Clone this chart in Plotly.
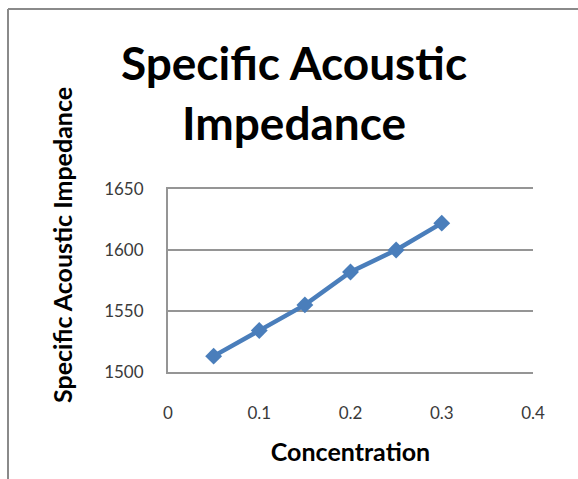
import plotly.graph_objects as go

concentration = [0.05, 0.10, 0.15, 0.20, 0.25, 0.30]
impedance = [1513, 1534, 1555, 1582, 1600, 1622]

x_ticks = [0, 0.1, 0.2, 0.3, 0.4]
x_tick_labels = ["0", "0.1", "0.2", "0.3", "0.4"]
y_ticks = [1500, 1550, 1600, 1650]

W, H = 578, 479
L, R, T, B = 168, 45, 189, 107
pw, ph = W - L - R, H - T - B

def px(x):
    return (x - L) / pw

def py(y):
    return (H - B - y) / ph

fig = go.Figure()
fig.add_trace(go.Scatter(
    x=concentration, y=impedance, mode="lines+markers",
    line=dict(color="#4a7ebb", width=4.5),
    marker=dict(symbol="diamond", size=13, color="#4a7ebb"),
    showlegend=False,
))

font = "Lato, Carlito, Calibri, sans-serif"
grid = "#959595"
fig.update_layout(
    width=W, height=H,
    margin=dict(l=L, r=R, t=T, b=B),
    paper_bgcolor="white", plot_bgcolor="white",
    font=dict(family=font, color="#404040"),
    title=dict(text="<b>Specific Acoustic<br>Impedance</b>",
               font=dict(family=font, size=46, color="black"),
               xref="container", x=294 / W, xanchor="center",
               yref="container", y=1 - 80 / H, yanchor="middle"),
    xaxis=dict(range=[0, 0.4], tickvals=x_ticks, ticktext=x_tick_labels,
               showgrid=False, zeroline=False, showline=True, mirror=True,
               linecolor=grid, linewidth=2, ticks="",
               tickfont=dict(size=17, color="#3a3a3a"), ticklabelstandoff=25,
               title=dict(text="<b>Concentration</b>", standoff=21,
                          font=dict(size=25, color="black"))),
    yaxis=dict(range=[1500, 1650], tickvals=y_ticks,
               showgrid=True, gridcolor=grid, gridwidth=2,
               zeroline=False, showline=True, linecolor=grid, linewidth=2,
               ticks="", tickfont=dict(size=17, color="#3a3a3a"), ticklabelstandoff=19),
    annotations=[
        dict(text="<b>Specific Acoustic Impedance</b>", textangle=-90,
             xref="paper", yref="paper", x=px(62), y=py(245),
             xanchor="center", yanchor="middle", showarrow=False,
             font=dict(family=font, size=25, color="black")),
    ],
    shapes=[
        dict(type="line", xref="paper", yref="paper",
             x0=px(8), x1=px(8), y0=py(9), y1=py(479 + 5),
             line=dict(color="#8a8a8a", width=2)),
        dict(type="line", xref="paper", yref="paper",
             x0=px(8), x1=px(578 + 5), y0=py(9), y1=py(9),
             line=dict(color="#8a8a8a", width=2)),
    ],
)

fig.write_html("out.html")
